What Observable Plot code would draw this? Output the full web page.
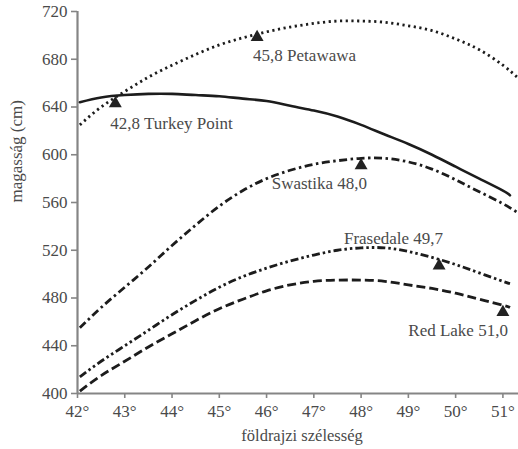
<!DOCTYPE html>
<html>
<head>
<meta charset="utf-8">
<script src="https://cdn.jsdelivr.net/npm/d3@7"></script>
<script src="https://cdn.jsdelivr.net/npm/@observablehq/plot@0.6"></script>
<style>
  html, body { margin: 0; padding: 0; background: #fff; }
  #chart svg { display: block; }
</style>
</head>
<body>
<div id="chart"></div>
<script>
// Latitude grids (°N)
const latLong  = [42.05, 42.5, 43, 43.5, 44, 44.5, 45, 45.5, 46, 46.5, 47, 47.5, 48, 48.5, 49, 49.5, 50, 50.5, 51, 51.33];
const latShort = [42.05, 42.5, 43, 43.5, 44, 44.5, 45, 45.5, 46, 46.5, 47, 47.5, 48, 48.5, 49, 49.5, 50, 50.5, 51, 51.15];

// Height (cm) curves per provenance
const petawawa    = [625, 640, 653, 665, 675, 684, 692, 698, 703, 707, 710, 712, 712, 711, 708, 704, 697, 688, 675, 664];
const swastika    = [455, 472, 489, 506, 524, 541, 557, 570, 580, 587, 592, 595, 597, 597, 594, 588, 579, 569, 559, 551];
const turkeyPoint = [644, 648, 650, 651, 651, 650, 649, 647, 645, 641, 637, 632, 625, 617, 609, 600, 590, 580, 570, 566];
const frasedale   = [414, 427, 440, 453, 466, 478, 489, 498, 505, 511, 516, 520, 522, 522, 519, 514, 508, 501, 494, 492];
const redLake     = [402, 415, 427, 439, 450, 461, 471, 479, 486, 491, 494, 495, 495, 494, 491, 488, 484, 479, 474, 472];

// Provenance origin points (triangles)
const siteNames  = ["42,8 Turkey Point", "45,8 Petawawa", "Swastika 48,0", "Frasedale 49,7", "Red Lake 51,0"];
const siteLat    = [42.8, 45.8, 48.0, 49.65, 51.0];
const siteHeight = [643, 698.5, 591, 507, 468];

// Axis ticks and titles
const xTicks = [42, 43, 44, 45, 46, 47, 48, 49, 50, 51];
const yTicks = [400, 440, 480, 520, 560, 600, 640, 680, 720];
const xTitle = "földrajzi szélesség";
const yTitle = "magasság (cm)";

const toPts = (lats, hs) => lats.map((l, i) => ({lat: l, h: hs[i]}));
const sites = siteNames.map((n, i) => ({name: n, lat: siteLat[i], h: siteHeight[i]}));

const ink = "#1c1c1c";
const gray = "#858585";
const textGray = "#4a4a4a";
const font = "Liberation Serif, Times New Roman, serif";

const lineOpts = {x: "lat", y: "h", stroke: ink, strokeWidth: 2.6, curve: "natural", strokeLinecap: "butt"};

const label = (name, opts) => Plot.text(sites.filter(d => d.name === name),
  {x: "lat", y: "h", text: "name", fill: textGray, fontSize: 17, ...opts});

const chart = Plot.plot({
  width: 518,
  height: 449,
  marginLeft: 77,
  marginRight: 0,
  marginTop: 11,
  marginBottom: 56,
  style: {fontFamily: font, background: "#fff"},
  x: {domain: [42, 51.33]},
  y: {domain: [400, 720]},
  marks: [
    Plot.axisX({ticks: xTicks, tickFormat: d => d + "°", tickSize: 5, tickPadding: 6,
      fontSize: 17, fill: textGray, stroke: gray, strokeWidth: 1.6, label: null}),
    Plot.axisY({ticks: yTicks, tickSize: 6, tickPadding: 4,
      fontSize: 17, fill: textGray, stroke: gray, strokeWidth: 1.6, label: null}),
    Plot.ruleY([400], {stroke: gray, strokeWidth: 2.2}),
    Plot.ruleX([42], {stroke: gray, strokeWidth: 2.2}),
    Plot.line(toPts(latLong, petawawa), {...lineOpts, strokeWidth: 2.8, strokeDasharray: "2.2,3.5"}),
    Plot.line(toPts(latShort, turkeyPoint), {...lineOpts, strokeLinecap: "round"}),
    Plot.line(toPts(latLong, swastika), {...lineOpts, strokeWidth: 2.8, strokeDasharray: "8,3.5,2.5,3.5"}),
    Plot.line(toPts(latShort, frasedale), {...lineOpts, strokeWidth: 2.8, strokeDasharray: "8,3,2.5,3,2.5,3"}),
    Plot.line(toPts(latShort, redLake), {...lineOpts, strokeWidth: 2.8, strokeDasharray: "9,4"}),
    Plot.dot(sites, {x: "lat", y: "h", symbol: "triangle", r: 4.8, fill: "#222", stroke: "none"}),
    label("42,8 Turkey Point", {textAnchor: "start", dx: -5, dy: 20}),
    label("45,8 Petawawa", {textAnchor: "start", dx: -4, dy: 18}),
    label("Swastika 48,0", {textAnchor: "end", dx: 6, dy: 18}),
    label("Frasedale 49,7", {textAnchor: "end", dx: 4, dy: -27}),
    label("Red Lake 51,0", {textAnchor: "end", dx: 5, dy: 18}),
    Plot.text([xTitle], {frameAnchor: "bottom", text: d => d, dx: 4, dy: 47,
      fontSize: 16.5, fill: textGray}),
    Plot.text([yTitle], {frameAnchor: "left", text: d => d, rotate: -90, dx: -61,
      fontSize: 17, fill: textGray})
  ]
});

document.getElementById("chart").appendChild(chart);
</script>
</body>
</html>
